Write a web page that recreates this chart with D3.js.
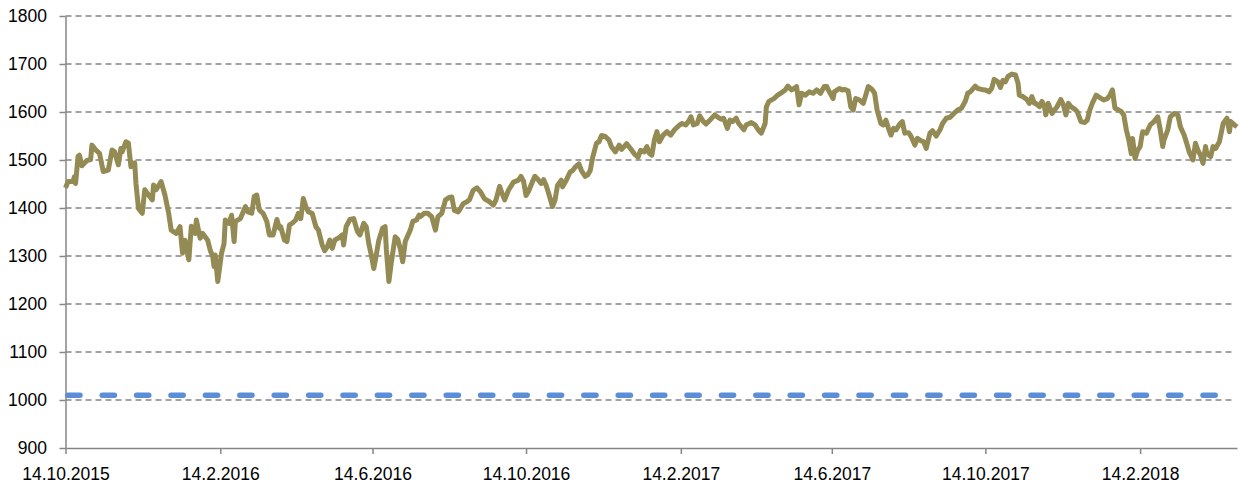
<!DOCTYPE html>
<html>
<head>
<meta charset="utf-8">
<script src="https://cdn.jsdelivr.net/npm/d3@7/dist/d3.min.js"></script>
<style>
	body { margin: 0; background: #fff; }
	svg { display: block; font-family: "Liberation Sans", Arial, sans-serif; }
</style>
</head>
<body>
<svg id="chart" width="1239" height="488"></svg>
<script>
// index level
var series = [
	["2015-10-14",1442],["2015-10-16",1455],["2015-10-20",1455],["2015-10-21",1465],["2015-10-22",1451],
	["2015-10-24",1508],["2015-10-25",1510],["2015-10-27",1488],["2015-10-31",1499],["2015-11-03",1501],
	["2015-11-04",1531],["2015-11-07",1521],["2015-11-10",1514],["2015-11-13",1476],["2015-11-17",1479],
	["2015-11-20",1521],["2015-11-22",1517],["2015-11-25",1490],["2015-11-27",1524],["2015-11-28",1517],
	["2015-12-01",1538],["2015-12-03",1535],["2015-12-05",1486],["2015-12-06",1493],["2015-12-08",1494],
	["2015-12-09",1451],["2015-12-11",1399],["2015-12-14",1389],["2015-12-16",1438],["2015-12-19",1427],
	["2015-12-22",1417],["2015-12-23",1448],["2015-12-25",1438],["2015-12-29",1455],["2016-01-01",1427],
	["2016-01-04",1389],["2016-01-06",1354],["2016-01-10",1347],["2016-01-13",1361],["2016-01-15",1306],
	["2016-01-17",1333],["2016-01-20",1292],["2016-01-22",1362],["2016-01-25",1347],["2016-01-26",1375],
	["2016-01-29",1337],["2016-01-31",1347],["2016-02-04",1333],["2016-02-06",1312],["2016-02-08",1299],
	["2016-02-09",1278],["2016-02-10",1302],["2016-02-12",1247],["2016-02-15",1306],["2016-02-17",1326],
	["2016-02-18",1375],["2016-02-21",1368],["2016-02-23",1385],["2016-02-25",1330],["2016-02-26",1372],
	["2016-03-01",1378],["2016-03-05",1403],["2016-03-07",1392],["2016-03-10",1389],["2016-03-12",1424],
	["2016-03-14",1427],["2016-03-16",1396],["2016-03-19",1389],["2016-03-22",1372],["2016-03-24",1344],
	["2016-03-27",1344],["2016-03-30",1376],["2016-04-01",1358],["2016-04-02",1361],["2016-04-05",1333],
	["2016-04-07",1330],["2016-04-09",1365],["2016-04-11",1368],["2016-04-14",1375],["2016-04-16",1389],
	["2016-04-18",1378],["2016-04-20",1420],["2016-04-22",1403],["2016-04-24",1392],["2016-04-27",1389],
	["2016-04-30",1361],["2016-05-02",1354],["2016-05-05",1323],["2016-05-07",1311],["2016-05-09",1319],
	["2016-05-11",1333],["2016-05-13",1316],["2016-05-15",1333],["2016-05-19",1339],["2016-05-21",1344],
	["2016-05-22",1323],["2016-05-24",1361],["2016-05-27",1376],["2016-05-30",1378],["2016-06-02",1351],
	["2016-06-04",1344],["2016-06-07",1368],["2016-06-09",1361],["2016-06-11",1326],["2016-06-13",1302],
	["2016-06-15",1274],["2016-06-16",1288],["2016-06-19",1333],["2016-06-22",1358],["2016-06-24",1361],
	["2016-06-25",1313],["2016-06-27",1247],["2016-06-29",1288],["2016-07-02",1340],["2016-07-04",1335],
	["2016-07-06",1316],["2016-07-08",1288],["2016-07-10",1330],["2016-07-14",1354],["2016-07-16",1372],
	["2016-07-19",1375],["2016-07-21",1385],["2016-07-22",1382],["2016-07-25",1389],["2016-07-28",1389],
	["2016-07-31",1382],["2016-08-03",1354],["2016-08-05",1382],["2016-08-08",1389],["2016-08-11",1417],
	["2016-08-14",1422],["2016-08-16",1423],["2016-08-18",1395],["2016-08-21",1392],["2016-08-22",1395],
	["2016-08-25",1409],["2016-08-28",1413],["2016-08-30",1417],["2016-09-02",1437],["2016-09-05",1442],
	["2016-09-08",1433],["2016-09-11",1419],["2016-09-15",1413],["2016-09-18",1406],["2016-09-20",1416],
	["2016-09-23",1445],["2016-09-25",1430],["2016-09-27",1417],["2016-09-30",1437],["2016-10-04",1454],
	["2016-10-08",1458],["2016-10-10",1466],["2016-10-12",1456],["2016-10-14",1426],["2016-10-16",1435],
	["2016-10-19",1454],["2016-10-21",1466],["2016-10-24",1458],["2016-10-26",1451],["2016-10-28",1459],
	["2016-10-30",1447],["2016-11-01",1430],["2016-11-04",1403],["2016-11-06",1416],["2016-11-08",1447],
	["2016-11-11",1458],["2016-11-12",1444],["2016-11-15",1458],["2016-11-18",1475],["2016-11-20",1478],
	["2016-11-22",1485],["2016-11-25",1492],["2016-11-27",1478],["2016-11-30",1466],["2016-12-02",1469],
	["2016-12-04",1478],["2016-12-06",1506],["2016-12-09",1535],["2016-12-11",1538],["2016-12-13",1551],
	["2016-12-16",1549],["2016-12-19",1541],["2016-12-21",1527],["2016-12-24",1517],["2016-12-27",1531],
	["2016-12-29",1522],["2017-01-02",1534],["2017-01-05",1524],["2017-01-08",1513],["2017-01-11",1506],
	["2017-01-13",1520],["2017-01-16",1517],["2017-01-18",1528],["2017-01-20",1514],["2017-01-22",1510],
	["2017-01-24",1542],["2017-01-26",1559],["2017-01-28",1538],["2017-01-31",1552],["2017-02-03",1559],
	["2017-02-06",1552],["2017-02-09",1563],["2017-02-13",1573],["2017-02-15",1576],["2017-02-18",1573],
	["2017-02-20",1580],["2017-02-22",1590],["2017-02-24",1573],["2017-02-27",1576],["2017-03-01",1592],
	["2017-03-04",1580],["2017-03-06",1575],["2017-03-09",1583],["2017-03-13",1594],["2017-03-15",1590],
	["2017-03-18",1585],["2017-03-20",1587],["2017-03-23",1566],["2017-03-25",1583],["2017-03-27",1580],
	["2017-03-30",1587],["2017-04-01",1576],["2017-04-05",1563],["2017-04-07",1573],["2017-04-11",1578],
	["2017-04-14",1573],["2017-04-17",1561],["2017-04-19",1556],["2017-04-22",1576],["2017-04-23",1611],
	["2017-04-25",1622],["2017-04-29",1628],["2017-05-02",1635],["2017-05-06",1642],["2017-05-08",1646],
	["2017-05-10",1654],["2017-05-13",1646],["2017-05-15",1649],["2017-05-17",1653],["2017-05-19",1615],
	["2017-05-21",1639],["2017-05-24",1635],["2017-05-27",1642],["2017-05-30",1639],["2017-06-02",1646],
	["2017-06-05",1639],["2017-06-08",1653],["2017-06-10",1653],["2017-06-12",1642],["2017-06-15",1628],
	["2017-06-16",1642],["2017-06-20",1649],["2017-06-22",1646],["2017-06-24",1647],["2017-06-27",1644],
	["2017-06-29",1611],["2017-07-01",1604],["2017-07-03",1628],["2017-07-06",1625],["2017-07-09",1618],
	["2017-07-13",1653],["2017-07-16",1647],["2017-07-18",1639],["2017-07-20",1604],["2017-07-23",1576],
	["2017-07-25",1573],["2017-07-27",1583],["2017-07-29",1566],["2017-07-31",1552],["2017-08-02",1566],
	["2017-08-04",1563],["2017-08-07",1575],["2017-08-09",1580],["2017-08-11",1556],["2017-08-14",1557],
	["2017-08-16",1549],["2017-08-19",1531],["2017-08-21",1545],["2017-08-24",1540],["2017-08-26",1538],
	["2017-08-28",1524],["2017-08-31",1556],["2017-09-02",1561],["2017-09-05",1550],["2017-09-08",1563],
	["2017-09-10",1576],["2017-09-13",1587],["2017-09-16",1589],["2017-09-19",1597],["2017-09-22",1604],
	["2017-09-25",1608],["2017-09-28",1622],["2017-09-30",1639],["2017-10-02",1642],["2017-10-06",1654],
	["2017-10-08",1649],["2017-10-11",1647],["2017-10-14",1646],["2017-10-17",1642],["2017-10-19",1649],
	["2017-10-21",1668],["2017-10-24",1663],["2017-10-26",1651],["2017-10-28",1666],["2017-10-30",1663],
	["2017-11-01",1674],["2017-11-04",1679],["2017-11-07",1677],["2017-11-09",1660],["2017-11-10",1635],
	["2017-11-13",1632],["2017-11-16",1626],["2017-11-18",1618],["2017-11-20",1632],["2017-11-22",1618],
	["2017-11-23",1618],["2017-11-26",1611],["2017-11-28",1622],["2017-11-30",1611],["2017-12-01",1594],
	["2017-12-03",1618],["2017-12-06",1597],["2017-12-10",1611],["2017-12-13",1626],["2017-12-15",1615],
	["2017-12-17",1594],["2017-12-19",1618],["2017-12-21",1611],["2017-12-24",1606],["2017-12-26",1601],
	["2017-12-29",1580],["2018-01-01",1578],["2018-01-03",1583],["2018-01-05",1604],["2018-01-07",1618],
	["2018-01-10",1635],["2018-01-13",1630],["2018-01-16",1625],["2018-01-19",1628],["2018-01-21",1635],
	["2018-01-23",1646],["2018-01-25",1608],["2018-01-28",1604],["2018-01-30",1601],["2018-02-01",1594],
	["2018-02-03",1563],["2018-02-05",1542],["2018-02-07",1513],["2018-02-08",1545],["2018-02-10",1503],
	["2018-02-12",1520],["2018-02-14",1528],["2018-02-16",1559],["2018-02-19",1556],["2018-02-22",1573],
	["2018-02-25",1580],["2018-02-28",1590],["2018-03-02",1563],["2018-03-04",1528],["2018-03-05",1542],
	["2018-03-08",1563],["2018-03-10",1590],["2018-03-13",1597],["2018-03-16",1594],["2018-03-18",1569],
	["2018-03-21",1552],["2018-03-23",1535],["2018-03-25",1517],["2018-03-28",1500],["2018-03-30",1535],
	["2018-04-01",1520],["2018-04-03",1510],["2018-04-05",1493],["2018-04-07",1528],["2018-04-08",1514],
	["2018-04-11",1507],["2018-04-13",1528],["2018-04-15",1524],["2018-04-18",1538],["2018-04-20",1563],
	["2018-04-21",1576],["2018-04-24",1587],["2018-04-26",1559],["2018-04-27",1580],["2018-04-30",1573],
	["2018-05-02",1569]
];

// flat reference level (blue dashed series)
var baseline = 1010;

var yTicks = [900, 1000, 1100, 1200, 1300, 1400, 1500, 1600, 1700, 1800];
var xTickDates = ["2015-10-14", "2016-02-14", "2016-06-14", "2016-10-14",
	"2017-02-14", "2017-06-14", "2017-10-14", "2018-02-14"];

var parse = d3.timeParse("%Y-%m-%d");
var data = series.map(function (d) { return { date: parse(d[0]), value: d[1] }; });

var plotLeft = 65.5, plotRight = 1237, plotTop = 16, plotBottom = 448;
var svg = d3.select("#chart");

var x = d3.scaleTime()
	.domain([data[0].date, data[data.length - 1].date])
	.range([plotLeft, plotRight]);
var y = d3.scaleLinear()
	.domain([900, 1800])
	.range([plotBottom, plotTop]);

// dashed gridlines
svg.append("g").selectAll("line")
	.data(yTicks.filter(function (v) { return v > 900; }))
	.join("line")
	.attr("x1", plotLeft)
	.attr("x2", 1232)
	.attr("y1", function (d) { return y(d); })
	.attr("y2", function (d) { return y(d); })
	.style("stroke", "#858585")
	.style("stroke-width", 1.3)
	.style("stroke-dasharray", "6,4");

// axes
var yAxis = svg.append("g")
	.attr("transform", "translate(" + plotLeft + ",0)")
	.call(d3.axisLeft(y).tickValues(yTicks).tickFormat(d3.format("d"))
		.tickSize(6).tickSizeOuter(0).tickPadding(12.5));

var xAxis = svg.append("g")
	.attr("transform", "translate(0," + plotBottom + ")")
	.call(d3.axisBottom(x).tickValues(xTickDates.map(parse))
		.tickFormat(d3.timeFormat("%-d.%-m.%Y"))
		.tickSize(6).tickSizeOuter(0).tickPadding(14));

[yAxis, xAxis].forEach(function (g) {
	g.select(".domain").style("stroke", "#868686").style("stroke-width", 1.5);
	g.selectAll(".tick line").style("stroke", "#868686").style("stroke-width", 1.5);
	g.selectAll(".tick text")
		.style("font-family", '"Liberation Sans", Arial, sans-serif')
		.style("font-size", "17.5px")
		.style("fill", "#000");
});

// baseline series
var line = d3.line()
	.x(function (d) { return x(d.date); })
	.y(function (d) { return y(d.value); });

svg.append("path")
	.datum(data.map(function (d) { return { date: d.date, value: baseline }; }))
	.attr("d", line)
	.style("fill", "none")
	.style("stroke", "#5b8ed6")
	.style("stroke-width", 5.5)
	.style("stroke-linecap", "round")
	.style("stroke-dasharray", "12.2,22.2")
	.style("stroke-dashoffset", 32.1);

// index series
svg.append("path")
	.datum(data)
	.attr("d", line)
	.style("fill", "none")
	.style("stroke", "#948a54")
	.style("stroke-width", 5)
	.style("stroke-linejoin", "round");
</script>
</body>
</html>
